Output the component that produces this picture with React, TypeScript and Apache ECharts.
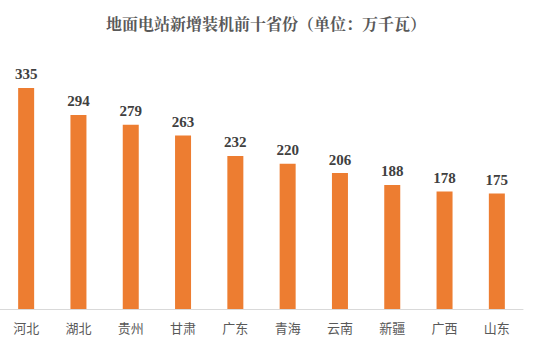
import React, { useEffect, useRef } from "react";
import * as echarts from "echarts";

const categories = ["河北", "湖北", "贵州", "甘肃", "广东", "青海", "云南", "新疆", "广西", "山东"];
const values = [335, 294, 279, 263, 232, 220, 206, 188, 178, 175];
const titleText = "地面电站新增装机前十省份（单位：万千瓦）";

export default function App() {
  const ref = useRef<HTMLDivElement>(null);
  useEffect(() => {
    const chart = echarts.init(ref.current!, null, { renderer: "svg" });
    chart.setOption({
      animation: false,
      backgroundColor: "#ffffff",
      title: {
        text: titleText,
        left: 101,
        top: 10,
        textStyle: {
          fontFamily: "Noto Serif CJK SC, Noto Sans CJK SC, serif",
          fontSize: 16,
          fontWeight: "bold",
          color: "#595959",
        },
      },
      grid: { left: 0, right: 24, top: 45, bottom: 42, containLabel: false },
      xAxis: {
        type: "category",
        data: categories,
        axisLine: { lineStyle: { color: "#d9d9d9", width: 1 } },
        axisTick: { show: false },
        axisLabel: {
          color: "#595959",
          fontSize: 13,
          margin: 12,
          fontFamily: "Noto Sans CJK SC",
        },
      },
      yAxis: {
        type: "value",
        min: 0,
        max: 400,
        show: false,
        splitLine: { show: false },
      },
      series: [
        {
          type: "bar",
          data: values,
          barWidth: 16,
          itemStyle: { color: "#ED7D31" },
          label: {
            show: true,
            position: "top",
            distance: 6,
            color: "#404040",
            fontSize: 15,
            fontWeight: "bold",
            fontFamily: "Liberation Serif",
          },
        },
      ],
    });
    return () => chart.dispose();
  }, []);
  return <div ref={ref} style={{ width: 547, height: 351, position: "absolute", left: 0, top: 0 }} />;
}
